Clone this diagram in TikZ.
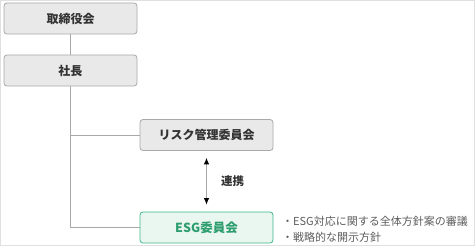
\documentclass[tikz,border=0pt]{standalone}
\usepackage{fontspec}
\usetikzlibrary{arrows.meta}
\setmainfont{Noto Sans CJK JP}
\definecolor{boxfill}{HTML}{E9E9E9}
\definecolor{boxline}{HTML}{A8A8A8}
\definecolor{esgline}{HTML}{3FB98A}
\definecolor{esgfill}{HTML}{EAF6F0}
\definecolor{esgtext}{HTML}{2E9E6E}
\definecolor{txt}{HTML}{333333}
\begin{document}
\begin{tikzpicture}[x=1pt,y=-1pt,
  orgbox/.style={draw=boxline, fill=boxfill, rounded corners=3pt, line width=0.8pt,
    minimum width=133pt, minimum height=31pt, text=txt, font=\bfseries\fontsize{12}{14}\selectfont},
  esgbox/.style={orgbox, draw=esgline, fill=esgfill, text=esgtext, font=\bfseries\fontsize{12.5}{14}\selectfont},
  link/.style={draw=boxline, line width=0.8pt}]
\useasboundingbox (0,0) rectangle (475,246);
\draw[draw=black!12, line width=0.6pt] (0.3,0.3) rectangle (474,245);
\node[orgbox] (board) at (70.5,18.5) {取締役会};
\node[orgbox] (pres) at (70.5,70.5) {社長};
\node[orgbox] (risk) at (206.5,135) {リスク管理委員会};
\node[esgbox] (esg) at (206.5,227.5) {ESG委員会};
\node[anchor=west, align=left, text=txt!80, inner sep=0pt, font=\fontsize{11}{16}\selectfont] (notes) at (282,229)
  {・ESG対応に関する全体方針案の審議\\・戦略的な開示方針};
\coordinate (riskjoin) at (70.5,135);
\coordinate (esgjoin) at (70.5,227.5);
\draw[link] (board) -- (pres);
\draw[link] (pres) -- (esgjoin) -- (esg);
\draw[link] (riskjoin) -- (risk);
\draw[link, {Latex[black,length=6.5pt,width=5.5pt]}-{Latex[black,length=6.5pt,width=5.5pt]}, shorten <=7pt, shorten >=7pt]
  (risk) -- node[right=11pt, text=txt, font=\bfseries\fontsize{11.5}{13}\selectfont] (linklabel) {連携} (esg);
\end{tikzpicture}
\end{document}
